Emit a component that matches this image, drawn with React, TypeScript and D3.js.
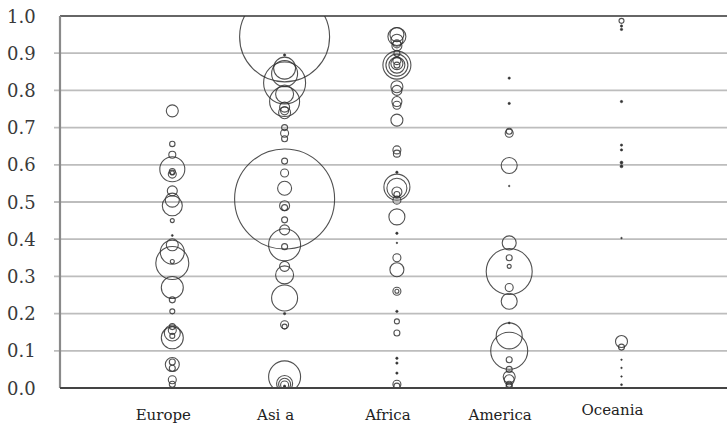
import React from 'react';
import * as d3 from 'd3';

const categories = ['Europe', 'Asi a', 'Africa', 'America', 'Oceania'];
const yTicks = [0, 0.1, 0.2, 0.3, 0.4, 0.5, 0.6, 0.7, 0.8, 0.9, 1.0];

// [value, bubble size]
const europe = [
  [0.745, 6], [0.656, 2.7], [0.627, 3.5], [0.588, 12.5], [0.582, 3], [0.578, 2], [0.575, 4],
  [0.53, 5], [0.505, 7], [0.49, 10], [0.45, 2], [0.41, 1], [0.385, 6], [0.365, 12],
  [0.336, 16.5], [0.34, 2], [0.27, 11], [0.237, 3], [0.206, 2.5], [0.165, 3], [0.155, 4],
  [0.148, 8], [0.14, 2.5], [0.135, 11], [0.07, 3], [0.063, 7], [0.053, 3], [0.022, 4], [0.01, 3],
];
const asia = [
  [0.944, 45], [0.895, 1.2], [0.86, 11], [0.845, 13], [0.82, 21], [0.79, 9], [0.77, 15],
  [0.755, 5], [0.745, 4], [0.74, 6], [0.7, 3], [0.685, 4], [0.67, 3], [0.508, 50],
  [0.61, 3], [0.578, 4], [0.537, 7], [0.49, 5], [0.485, 3], [0.452, 3], [0.425, 5],
  [0.385, 16], [0.38, 3], [0.327, 5], [0.304, 9], [0.242, 13], [0.2, 1.2], [0.17, 4],
  [0.165, 2.5], [0.03, 16], [0.012, 8], [0.01, 6], [0.008, 4], [0.005, 1.2],
];
const africa = [
  [0.95, 7], [0.945, 9], [0.935, 6], [0.925, 4], [0.92, 5], [0.9, 3], [0.868, 14], [0.868, 11],
  [0.868, 8], [0.872, 6], [0.868, 3], [0.88, 4], [0.81, 6], [0.8, 5], [0.77, 5], [0.76, 4],
  [0.72, 6], [0.64, 4], [0.63, 3.5], [0.58, 1.2], [0.54, 13], [0.537, 10], [0.527, 5],
  [0.52, 3], [0.505, 4], [0.46, 8], [0.416, 1.2], [0.39, 0.8], [0.35, 4], [0.318, 7],
  [0.26, 4], [0.26, 2], [0.206, 1.2], [0.179, 2.5], [0.148, 3], [0.08, 1.2], [0.067, 1.2],
  [0.04, 1.2], [0.01, 4], [0.005, 3],
];
const america = [
  [0.833, 1.2], [0.765, 1.2], [0.685, 4], [0.69, 3], [0.598, 8], [0.543, 0.8], [0.39, 7],
  [0.35, 3], [0.327, 2], [0.313, 23], [0.27, 4], [0.233, 8], [0.175, 1], [0.14, 13],
  [0.1, 18.5], [0.076, 3], [0.05, 3], [0.03, 6], [0.022, 5], [0.01, 3], [0.005, 3],
];
const oceania = [
  [0.987, 2.5], [0.973, 1.2], [0.964, 1.2], [0.77, 1.2], [0.653, 1.2], [0.64, 1.2],
  [0.606, 1.5], [0.596, 1.5], [0.403, 0.8], [0.125, 6], [0.11, 3], [0.076, 0.8],
  [0.054, 0.8], [0.031, 0.8], [0.009, 1],
];
const series = [europe, asia, africa, america, oceania];

const W = 727;
const H = 435;
const left = 60;
const top = 16;
const bottom = 388;

export default function App() {
  const y = d3.scaleLinear().domain([0, 1]).range([bottom, top]);
  const x = d3.scaleLinear().domain([0, 6]).range([left, left + 6 * 112.3]);

  return (
    <svg width={W} height={H} style={{ position: 'absolute', left: 0, top: 0, background: '#fff' }}>
      <defs>
        <clipPath id="plot">
          <rect x={left} y={top} width={W - left} height={bottom - top} />
        </clipPath>
      </defs>
      {yTicks.map(t => (
        <g key={t}>
          {t > 0 && t < 1 && (
            <line x1={54} x2={W} y1={y(t)} y2={y(t)} stroke="#bdbdbd" strokeWidth={1.8} />
          )}
          <text x={7} y={y(t) + 6.5} fontFamily="DejaVu Serif" fontSize={18} fill="#3a3a3a">
            {d3.format('.1f')(t)}
          </text>
        </g>
      ))}
      <line x1={left} x2={W} y1={top} y2={top} stroke="#333" strokeWidth={1.6} />
      <line x1={left} x2={left} y1={top} y2={bottom} stroke="#8a8a8a" strokeWidth={2.2} />
      <g clipPath="url(#plot)">
        {series.map((pts, i) =>
          pts.map(([v, r], j) => (
            <circle
              key={i + '-' + j}
              cx={x(i + 1)}
              cy={y(v)}
              r={r}
              fill={r <= 1.5 ? '#333' : 'none'}
              stroke="#333"
              strokeOpacity={0.85}
              strokeWidth={r <= 1.5 ? 0.6 : 1.1}
            />
          ))
        )}
      </g>
      <line x1={left} x2={W} y1={bottom} y2={bottom} stroke="#444" strokeWidth={2.2} />
      {categories.map((c, i) => (
        <text
          key={c}
          x={x(i + 1) - 9}
          y={i === 4 ? 415 : 420}
          textAnchor="middle"
          fontFamily="DejaVu Serif"
          fontSize={15}
          fill="#222"
        >
          {c}
        </text>
      ))}
    </svg>
  );
}
